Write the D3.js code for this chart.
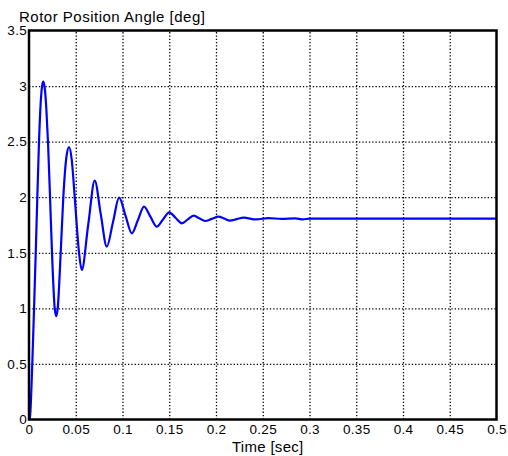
<!DOCTYPE html>
<html>
<head>
<meta charset="utf-8">
<script src="https://cdn.jsdelivr.net/npm/d3@7"></script>
<style>
  html, body { margin: 0; padding: 0; background: #fff; }
  svg { display: block; }
  text { font-family: "Liberation Sans", Arial, sans-serif; fill: #000; }
</style>
</head>
<body>
<div id="chart"></div>
<script>
// ---- data ----
const timeSec = [
  0, 0.001, 0.0035, 0.0054, 0.0072, 0.0089, 0.0107, 0.0125, 0.0140, 0.0153, 0.0170, 0.0185,
  0.0203, 0.0225, 0.0246, 0.0275, 0.0292, 0.0307, 0.0339, 0.0367, 0.0400, 0.0428,
  0.0458, 0.0489, 0.0535, 0.0564, 0.0633, 0.0703, 0.0767, 0.0832, 0.0898, 0.0964,
  0.1032, 0.1100, 0.1165, 0.1230, 0.1298, 0.1367, 0.1433, 0.1500, 0.1567, 0.1635,
  0.1698, 0.1760, 0.1822, 0.1884, 0.1955, 0.2027, 0.2088, 0.2150, 0.2222, 0.2295,
  0.2430, 0.2560, 0.2700, 0.2850, 0.2930, 0.3000, 0.4000, 0.5000
];
const angleDeg = [
  0, 0.02, 0.50, 1.00, 1.50, 2.00, 2.50, 2.85, 3.00, 3.04, 2.97, 2.80,
  2.50, 2.00, 1.50, 1.00, 0.93, 1.00, 1.50, 2.00, 2.36, 2.45,
  2.33, 2.00, 1.50, 1.345, 1.75, 2.15, 1.85, 1.555, 1.775, 1.996,
  1.835, 1.675, 1.795, 1.915, 1.825, 1.735, 1.80, 1.864, 1.815, 1.765,
  1.80, 1.834, 1.81, 1.786, 1.805, 1.825, 1.808, 1.79, 1.803, 1.816,
  1.800, 1.812, 1.805, 1.810, 1.800, 1.808, 1.808, 1.808
];
const xTickValues = [0, 0.05, 0.1, 0.15, 0.2, 0.25, 0.3, 0.35, 0.4, 0.45, 0.5];
const xTickLabels = ["0", "0.05", "0.1", "0.15", "0.2", "0.25", "0.3", "0.35", "0.4", "0.45", "0.5"];
const yTickValues = [0, 0.5, 1, 1.5, 2, 2.5, 3, 3.5];
const yTickLabels = ["0", "0.5", "1", "1.5", "2", "2.5", "3", "3.5"];
const titleText = "Rotor Position Angle [deg]";
const xLabelText = "Time [sec]";

// ---- layout ----
const W = 508, H = 456;
const pLeft = 29, pRight = 496.5, pTop = 30.5, pBottom = 419.5;

const svg = d3.select("#chart").append("svg")
  .attr("width", W).attr("height", H)
  .attr("viewBox", `0 0 ${W} ${H}`);
svg.append("rect").attr("width", W).attr("height", H).attr("fill", "#fff");

const x = d3.scaleLinear().domain([0, 0.5]).range([pLeft, pRight]);
const y = d3.scaleLinear().domain([0, 3.5]).range([pBottom, pTop]);

// grid
const grid = svg.append("g");
grid.append("g").attr("transform", `translate(0,${pBottom})`)
  .call(d3.axisBottom(x).tickValues(xTickValues.slice(1, -1)).tickSize(-(pBottom - pTop)).tickFormat(""))
  .call(g => g.select(".domain").remove())
  .call(g => g.selectAll("line").attr("stroke", "#000").attr("stroke-width", 1.3).attr("stroke-dasharray", "1.3,2"));
grid.append("g").attr("transform", `translate(${pLeft},0)`)
  .call(d3.axisLeft(y).tickValues(yTickValues.slice(1, -1)).tickSize(-(pRight - pLeft)).tickFormat(""))
  .call(g => g.select(".domain").remove())
  .call(g => g.selectAll("line").attr("stroke", "#000").attr("stroke-width", 1.3).attr("stroke-dasharray", "1.3,2"));

// data line
const line = d3.line()
  .x((d, i) => x(timeSec[i]))
  .y(d => y(d))
  .curve(d3.curveMonotoneX);
svg.append("path")
  .datum(angleDeg)
  .attr("d", line)
  .attr("fill", "none")
  .attr("stroke", "#0000ff")
  .attr("stroke-width", 2.2)
  .attr("stroke-linejoin", "round");

// axes labels
const xAxis = svg.append("g").attr("transform", `translate(0,${pBottom})`)
  .call(d3.axisBottom(x).tickValues(xTickValues).tickSize(0).tickPadding(4.5)
    .tickFormat((d, i) => xTickLabels[i]));
xAxis.select(".domain").remove();
xAxis.selectAll("text").attr("font-size", 13.5).attr("letter-spacing", 0.3)
  .attr("font-family", "Liberation Sans, Arial, sans-serif");

const yAxis = svg.append("g").attr("transform", `translate(${pLeft},0)`)
  .call(d3.axisLeft(y).tickValues(yTickValues).tickSize(0).tickPadding(2)
    .tickFormat((d, i) => yTickLabels[i]));
yAxis.select(".domain").remove();
yAxis.selectAll("text").attr("font-size", 13.5).attr("letter-spacing", 0.3)
  .attr("font-family", "Liberation Sans, Arial, sans-serif");

// frame
svg.append("rect")
  .attr("x", pLeft).attr("y", pTop)
  .attr("width", pRight - pLeft).attr("height", pBottom - pTop)
  .attr("fill", "none").attr("stroke", "#000").attr("stroke-width", 2.5);

// title and x label
svg.append("text").attr("x", 19).attr("y", 21.5)
  .attr("font-size", 15).attr("letter-spacing", 0.5).text(titleText);
svg.append("text").attr("x", (pLeft + pRight) / 2 + 5).attr("y", 451.5)
  .attr("text-anchor", "middle").attr("font-size", 15).attr("letter-spacing", 0.3).text(xLabelText);
</script>
</body>
</html>
